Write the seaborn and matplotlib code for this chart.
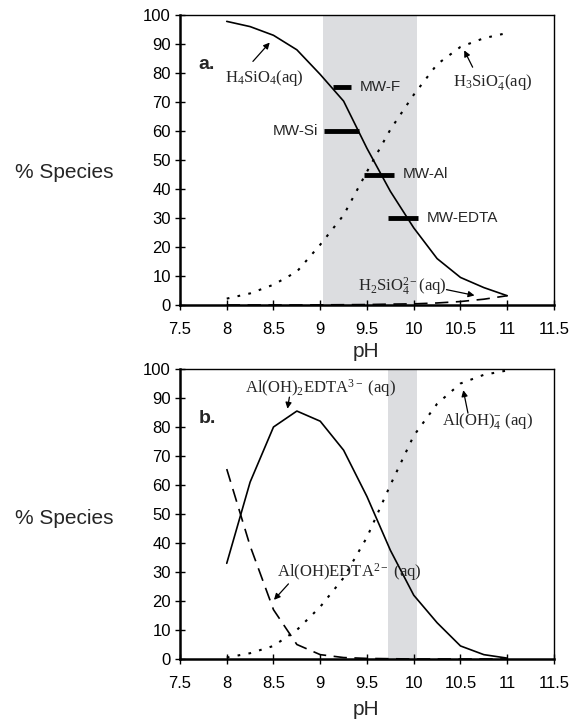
import numpy as np
import pandas as pd
import matplotlib
matplotlib.use("Agg")
import matplotlib.pyplot as plt
import seaborn as sns

# ---------------- data ----------------
ph = [8.0, 8.25, 8.5, 8.75, 9.0, 9.25, 9.5, 9.75, 10.0, 10.25, 10.5, 10.75, 11.0]

# panel a: silica speciation
h4sio4 = [97.8, 96.0, 93.0, 88.0, 79.5, 70.3, 54.0, 39.2, 26.6, 16.0, 9.5, 6.0, 3.2]
h3sio4 = [2.2, 4.0, 7.0, 11.5, 20.8, 31.0, 46.0, 60.5, 72.5, 83.0, 89.0, 92.0, 93.8]
h2sio4 = [0.0, 0.0, 0.0, 0.0, 0.05, 0.1, 0.15, 0.3, 0.4, 0.7, 1.2, 2.0, 3.2]

# panel b: aluminium speciation
aloh2edta = [33.0, 61.0, 80.0, 85.5, 82.0, 72.0, 56.0, 37.5, 22.0, 12.5, 4.5, 1.5, 0.3]
alohedta = [65.5, 39.0, 17.0, 5.0, 1.5, 0.5, 0.2, 0.1, 0.0, 0.0, 0.0, 0.0, 0.0]
aloh4 = [0.5, 2.0, 4.5, 10.0, 18.0, 28.0, 42.0, 60.0, 77.0, 88.0, 95.0, 98.0, 99.5]

# MW markers (panel a)
mw_labels = ["MW-F", "MW-Si", "MW-Al", "MW-EDTA"]
mw_start = [9.14, 9.04, 9.47, 9.73]
mw_end = [9.33, 9.41, 9.79, 10.05]
mw_value = [75.3, 60.0, 45.0, 30.0]

band_a = (9.03, 10.03)
band_b = (9.73, 10.04)

xticks = [7.5, 8, 8.5, 9, 9.5, 10, 10.5, 11, 11.5]
xticklabels = ["7.5", "8", "8.5", "9", "9.5", "10", "10.5", "11", "11.5"]
yticks = list(range(0, 101, 10))

# ---------------- style ----------------
sns.set_theme(style="ticks")
plt.rcParams["font.family"] = ["Liberation Sans", "DejaVu Sans"]
plt.rcParams["mathtext.fontset"] = "custom"
plt.rcParams["mathtext.rm"] = "Liberation Serif"
plt.rcParams["mathtext.it"] = "Liberation Serif:italic"

fig = plt.figure(figsize=(5.84, 7.23), dpi=100)
ax_a = fig.add_axes([0.3082, 1 - 305 / 723, 0.9486 - 0.3082, (305 - 15) / 723])
ax_b = fig.add_axes([0.3082, 1 - 659 / 723, 0.9486 - 0.3082, (659 - 369) / 723])

serif = "Liberation Serif"
dotted = (0, (1.3, 4.0))
dashed = (0, (8, 4.5))
ann_fs = 12


def style_axes(ax):
    ax.set_xlim(7.5, 11.5)
    ax.set_ylim(0, 100)
    ax.set_xticks(xticks)
    ax.set_xticklabels(xticklabels)
    ax.set_yticks(yticks)
    ax.tick_params(axis="both", direction="inout", length=7, width=1.0,
                   labelsize=12, colors="black")
    ax.tick_params(axis="x", pad=9)
    ax.tick_params(axis="y", pad=3)
    for side in ["left", "bottom"]:
        ax.spines[side].set_linewidth(1.8)
        ax.spines[side].set_color("black")
    for side in ["top", "right"]:
        ax.spines[side].set_visible(True)
        ax.spines[side].set_linewidth(1.0)
        ax.spines[side].set_color("black")
    ax.set_xlabel("")
    ax.set_ylabel("")
    ax.set_facecolor("white")


def arrow(ax, tail, head):
    ax.annotate("", xy=head, xytext=tail,
                arrowprops=dict(arrowstyle="-|>", color="black", lw=0.9,
                                mutation_scale=9, shrinkA=0, shrinkB=0))


# ---------------- panel a ----------------
ax = ax_a
ax.axvspan(*band_a, color="#dcdde0", zorder=0, lw=0)
sns.lineplot(x=ph, y=h4sio4, ax=ax, color="black", lw=1.2, zorder=3)
sns.lineplot(x=ph, y=h3sio4, ax=ax, color="black", lw=1.5, linestyle=dotted, zorder=3)
sns.lineplot(x=ph, y=h2sio4, ax=ax, color="black", lw=1.2, linestyle=dashed, zorder=3)
ax.hlines(mw_value, mw_start, mw_end, color="black", lw=3.5, zorder=4)
for lab, s, e, v in zip(mw_labels, mw_start, mw_end, mw_value):
    if lab == "MW-Si":
        ax.text(s - 0.06, v, lab, ha="right", va="center", fontsize=11)
    else:
        ax.text(e + 0.09, v, lab, ha="left", va="center", fontsize=11)
style_axes(ax)

ax.text(7.70, 83, "a.", fontsize=14, fontweight="bold", ha="left", va="center")
ax.text(7.98, 78.4, r"$\mathregular{H_4SiO_4}$(aq)", family=serif, fontsize=ann_fs,
        ha="left", va="center")
arrow(ax, (8.28, 84.0), (8.46, 90.5))
ax.text(10.42, 77.0, r"$\mathregular{H_3SiO_4^{-}}$(aq)", family=serif, fontsize=ann_fs,
        ha="left", va="center")
arrow(ax, (10.63, 82.0), (10.54, 87.8))
ax.text(9.40, 6.3, r"$\mathregular{H_2SiO_4^{2-}}$(aq)", family=serif, fontsize=ann_fs,
        ha="left", va="center")
arrow(ax, (10.35, 5.3), (10.65, 3.3))

# ---------------- panel b ----------------
ax = ax_b
ax.axvspan(*band_b, color="#dcdde0", zorder=0, lw=0)
sns.lineplot(x=ph, y=aloh2edta, ax=ax, color="black", lw=1.2, zorder=3)
sns.lineplot(x=ph, y=aloh4, ax=ax, color="black", lw=1.5, linestyle=dotted, zorder=3)
sns.lineplot(x=ph, y=alohedta, ax=ax, color="black", lw=1.2, linestyle=dashed, zorder=3)
style_axes(ax)

ax.text(7.70, 83, "b.", fontsize=14, fontweight="bold", ha="left", va="center")
ax.text(8.20, 93.3, r"$\mathregular{Al(OH)_2EDTA^{3-}}$ (aq)", family=serif, fontsize=ann_fs,
        ha="left", va="center")
arrow(ax, (8.67, 90.3), (8.65, 86.3))
ax.text(10.30, 82.2, r"$\mathregular{Al(OH)_4^{-}}$ (aq)", family=serif, fontsize=ann_fs,
        ha="left", va="center")
arrow(ax, (10.58, 84.8), (10.53, 92.7))
ax.text(8.54, 30.0, r"$\mathregular{Al(OH)EDTA^{2-}}$ (aq)", family=serif, fontsize=ann_fs,
        ha="left", va="center")
arrow(ax, (8.66, 25.9), (8.505, 20.4))

# ---------------- axis titles ----------------
for ycen in [1 - 172 / 723, 1 - 518 / 723]:
    fig.text(15 / 584, ycen, "% Species", fontsize=15, ha="left", va="center")
for ybase in [1 - 357 / 723, 1 - 715 / 723]:
    fig.text(366 / 584, ybase, "pH", fontsize=15, ha="center", va="baseline")

fig.savefig("out.png", dpi=100)
